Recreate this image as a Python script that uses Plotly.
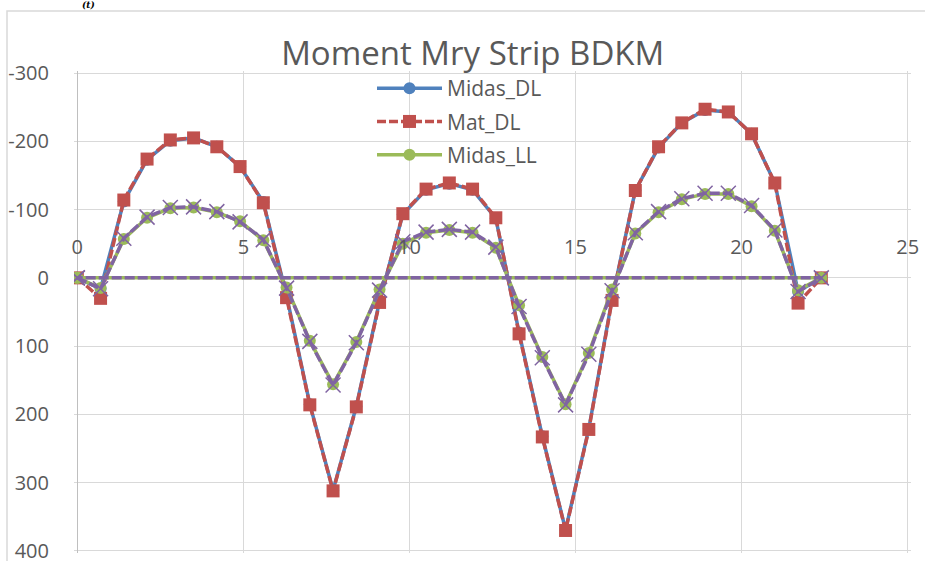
import plotly.graph_objects as go

# Station along the strip (m)
x_pos = [0.0, 0.7, 1.4, 2.1, 2.8, 3.5, 4.2, 4.9, 5.6, 6.3, 7.0, 7.7, 8.4,
         9.1, 9.8, 10.5, 11.2, 11.9, 12.6, 13.3, 14.0, 14.7, 15.4, 16.1,
         16.8, 17.5, 18.2, 18.9, 19.6, 20.3, 21.0, 21.7, 22.4]

# Dead-load moments
midas_dl = [0, 16, -112, -173, -201, -205, -192, -163, -111, 26, 185, 311,
            188, 34, -93, -129, -138, -129, -87, 80, 232, 369, 221, 31,
            -128, -191, -227, -246, -243, -211, -139, 20, 0]
mat_dl = [0, 30, -114, -174, -202, -205, -192, -163, -110, 29, 186, 312,
          189, 36, -94, -130, -139, -130, -88, 82, 233, 370, 222, 33,
          -128, -192, -227, -247, -243, -211, -139, 37, 0]

# Live-load moments (polyline closes back to the origin)
x_ll = x_pos + [0.0]
midas_ll = [0, 15, -57, -88, -102, -103, -96, -83, -55, 14, 92, 156, 94,
            17, -50, -66, -70, -66, -44, 40, 116, 185, 110, 17, -65, -96,
            -115, -123, -123, -105, -69, 18, 0, 0]
mat_ll = [0, 16, -58, -89, -103, -104, -97, -82, -56, 15, 93, 157, 95,
          18, -53, -67, -71, -67, -45, 42, 117, 186, 112, 19, -66, -97,
          -116, -124, -124, -106, -70, 20, 0, 0]

y_ticks = [-300, -200, -100, 0, 100, 200, 300, 400]
y_labels = ["-300", "-200", "-100", "0", "100", "200", "300", "400"]
x_ticks = [0, 5, 10, 15, 20, 25]
x_labels = ["0", "5", "10", "15", "20", "25"]

BLUE = "#4F81BD"
RED = "#C0504D"
GREEN = "#9BBB59"
PURPLE = "#8064A2"
TEXT = "#595959"
GRID = "#D9D9D9"
FONT = "Open Sans"
LW = 3.5

fig = go.Figure()
fig.add_trace(go.Scatter(
    x=x_pos, y=midas_dl, name="Midas_DL", mode="lines+markers",
    legendgroup="a",
    line=dict(color=BLUE, width=LW),
    marker=dict(symbol="circle", size=12, color=BLUE)))
fig.add_trace(go.Scatter(
    x=x_pos, y=mat_dl, name="Mat_DL", mode="lines+markers",
    legendgroup="b",
    line=dict(color=RED, width=LW, dash="9px,3px"),
    marker=dict(symbol="square", size=13, color=RED)))
fig.add_trace(go.Scatter(
    x=x_ll, y=midas_ll, name="Midas_LL", mode="lines+markers",
    legendgroup="c",
    line=dict(color=GREEN, width=LW),
    marker=dict(symbol="circle", size=12, color=GREEN)))
fig.add_trace(go.Scatter(
    x=x_ll, y=mat_ll, name="Mat_LL", mode="lines+markers",
    legendgroup="d", showlegend=False,
    line=dict(color=PURPLE, width=LW, dash="10px,3px"),
    marker=dict(symbol="x-thin", size=15, color=PURPLE,
                line=dict(color=PURPLE, width=1.5))))

W, H = 925, 561
ML, MR, MT, MB = 74, 14, 71, 8
pw, ph = W - ML - MR, H - MT - MB


def px_x(p):
    return (p - ML) / pw


def px_y(p):
    return (H - MB - p) / ph


fig.update_layout(
    width=W, height=H,
    margin=dict(l=ML, r=MR, t=MT, b=MB, autoexpand=False),
    paper_bgcolor="white", plot_bgcolor="white",
    font=dict(family=FONT, color=TEXT, size=20),
    title=dict(text="Moment Mry Strip BDKM", x=px_x(472.7), xref="paper",
               xanchor="center", y=1 - 53 / H, yref="container",
               yanchor="middle",
               font=dict(family=FONT, size=33, color=TEXT)),
    xaxis=dict(range=[-0.1, 25.1], tickvals=x_ticks, ticktext=x_labels,
               showgrid=True, gridcolor=GRID, gridwidth=1,
               zeroline=True, zerolinecolor="#BFBFBF", zerolinewidth=1,
               showline=False, ticks="", automargin=False,
               side="top", anchor="free", position=px_y(258),
               ticklabeloverflow="allow",
               tickfont=dict(family=FONT, size=20, color=TEXT)),
    yaxis=dict(range=[403, -303], tickvals=y_ticks, ticktext=y_labels,
               showgrid=True, gridcolor=GRID, gridwidth=1,
               zeroline=False, showline=False, automargin=False,
               ticks="outside", ticklen=20,
               tickcolor="rgba(0,0,0,0)", ticklabeloverflow="allow",
               tickfont=dict(family=FONT, size=20, color=TEXT)),
    legend=dict(x=px_x(372), xanchor="left", y=px_y(68), yanchor="top",
                bgcolor="rgba(0,0,0,0)", borderwidth=0,
                tracegroupgap=3, itemwidth=65,
                font=dict(family=FONT, size=21, color=TEXT)),
    showlegend=True,
)

# Outer chart frame
fig.add_shape(type="rect", xref="paper", yref="paper",
              x0=px_x(7), x1=px_x(940), y0=px_y(580), y1=px_y(11),
              line=dict(color=GRID, width=1.5), fillcolor="rgba(0,0,0,0)",
              layer="below")

# Caption fragment above the frame
fig.add_annotation(text="<b><i>(t)</i></b>", xref="paper", yref="paper",
                   x=px_x(88), y=px_y(5), xanchor="center", yanchor="middle",
                   showarrow=False,
                   font=dict(family="DejaVu Serif", size=9, color="black"))

fig.write_html("out.html")
